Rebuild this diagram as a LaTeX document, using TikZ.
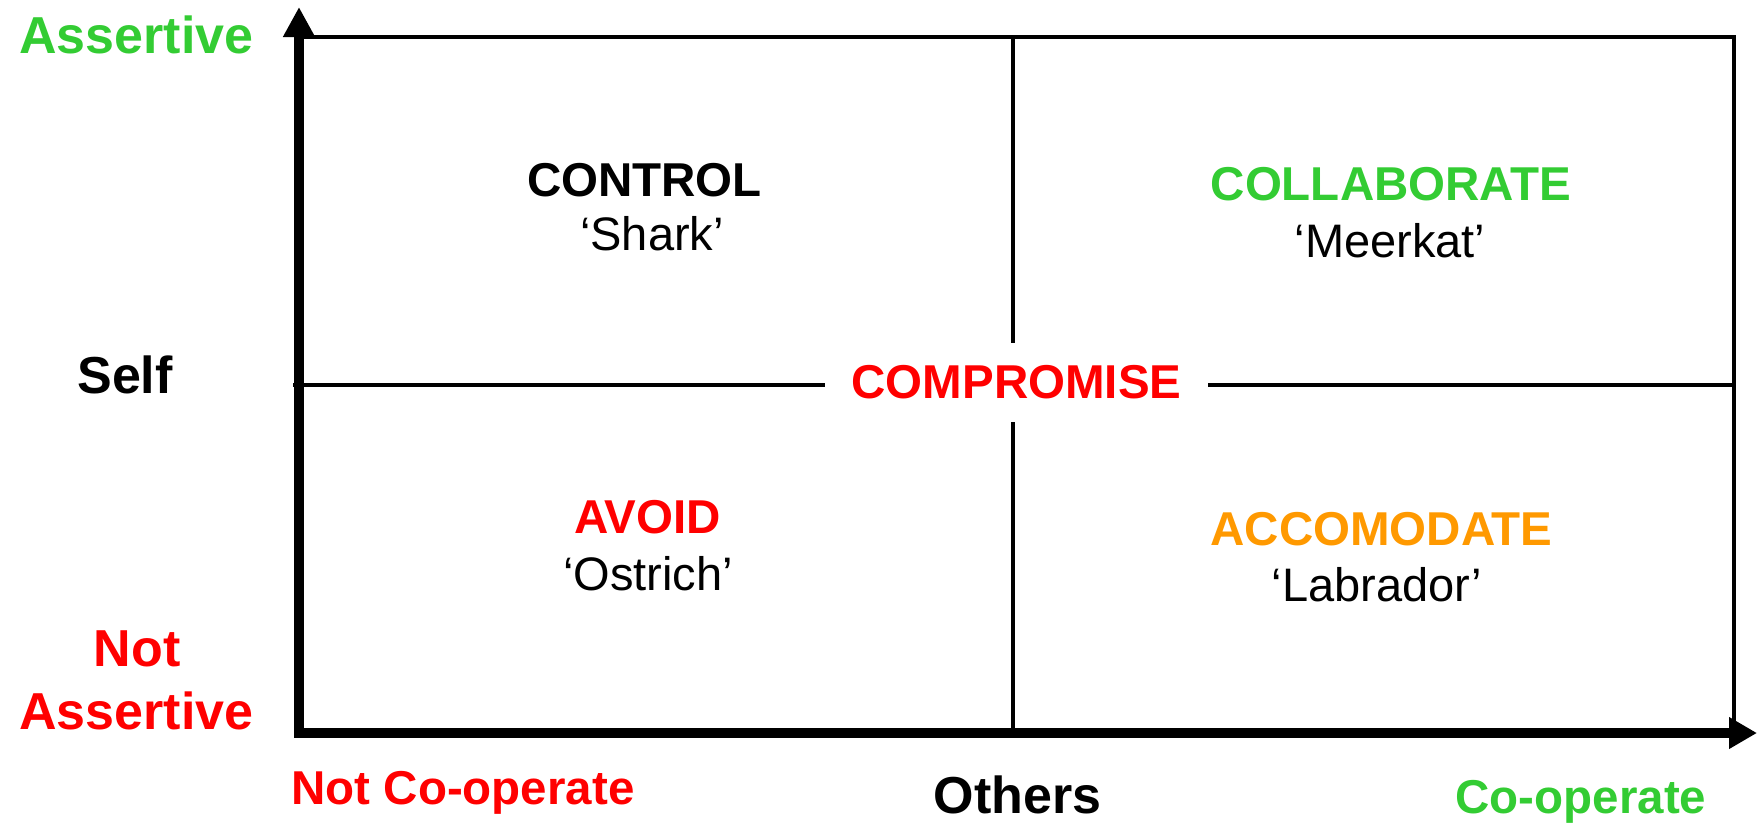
\documentclass[tikz,border=0pt]{standalone}
\usepackage{fontspec}
\setmainfont{Liberation Sans}
\usetikzlibrary{arrows.meta}
\definecolor{cgreen}{HTML}{33CC33}
\definecolor{cred}{HTML}{FF0000}
\definecolor{corange}{HTML}{FF9900}
\begin{document}
\begin{tikzpicture}[x=1pt,y=-1pt,
  axislbl/.style={inner sep=0pt, anchor=base, font=\fontsize{52}{63}\selectfont\bfseries},
  sidelbl/.style={inner sep=0pt, anchor=base, font=\fontsize{47.5}{57}\selectfont\bfseries},
  qtitle/.style={inner sep=0pt, anchor=base, font=\fontsize{47.5}{57}\selectfont\bfseries},
  animal/.style={inner sep=0pt, anchor=base, font=\fontsize{47}{56}\selectfont},
  axisline/.style={line width=9.5pt, line join=miter, {Triangle[length=30pt,width=30pt]}-{Triangle[length=28pt,width=30pt]}},
  gridline/.style={line width=4pt, line join=miter}]
\useasboundingbox (0,0) rectangle (1758,823);

% coordinates
\coordinate (O) at (299,733);
\coordinate (Ytip) at (299,7);
\coordinate (Xtip) at (1757,733);
\coordinate (TL) at (299,37);
\coordinate (TR) at (1734,37);
\coordinate (BR) at (1734,733);
\coordinate (MT) at (1013,37);
\coordinate (MB) at (1013,733);
\coordinate (ML) at (293,385);
\coordinate (MR) at (1734,385);

% centre label (gap in the grid lines)
\node[qtitle, text=cred, anchor=center, minimum width=383pt, minimum height=79pt] (comp) at (1016.5,382.5) {COMPROMISE};

% grid
\draw[gridline] (TL) -- (TR) -- (BR);
\draw[gridline] (MT) -- (MT |- comp.north);
\draw[gridline] (MB) -- (MB |- comp.south);
\draw[gridline] (ML) -- (ML -| comp.west);
\draw[gridline] (MR) -- (MR -| comp.east);

% axes
\draw[axisline] (Ytip) -- (O) -- (Xtip);

% axis labels
\node[axislbl, text=cgreen] (assert) at (136.5,53) {Assertive};
\node[axislbl] (self) at (125,393) {Self};
\node[axislbl, text=cred] (notA1) at (137,666) {Not};
\node[axislbl, text=cred] (notA2) at (136.5,729) {Assertive};
\node[sidelbl, text=cred] (notco) at (463,804) {Not Co-operate};
\node[axislbl] (others) at (1017.5,813) {Others};
\node[sidelbl, text=cgreen] (coop) at (1581,813) {Co-operate};

% quadrants
\node[qtitle] (control) at (644.5,196) {CONTROL};
\node[animal] (shark) at (652,250) {‘Shark’};
\node[qtitle, text=cgreen] (collab) at (1391,200) {COLLABORATE};
\node[animal] (meerkat) at (1390,257) {‘Meerkat’};
\node[qtitle, text=cred] (avoid) at (647.5,533) {AVOID};
\node[animal] (ostrich) at (648,590) {‘Ostrich’};
\node[qtitle, text=corange] (accom) at (1381.5,545) {ACCOMODATE};
\node[animal] (labrador) at (1377,601) {‘Labrador’};
\end{tikzpicture}
\end{document}
